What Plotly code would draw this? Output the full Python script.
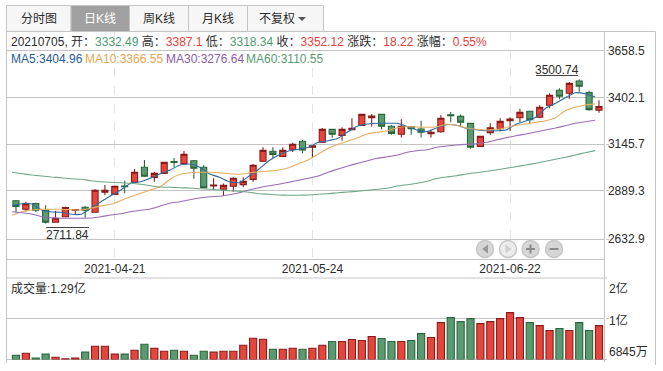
import plotly.graph_objects as go

W, H = 663, 371
dates = ["2021-04-07","2021-04-08","2021-04-09","2021-04-12","2021-04-13","2021-04-14","2021-04-15","2021-04-16","2021-04-19","2021-04-20",
"2021-04-21","2021-04-22","2021-04-23","2021-04-26","2021-04-27","2021-04-28","2021-04-29","2021-04-30","2021-05-06","2021-05-07",
"2021-05-10","2021-05-11","2021-05-12","2021-05-13","2021-05-14","2021-05-17","2021-05-18","2021-05-19","2021-05-20","2021-05-21",
"2021-05-24","2021-05-25","2021-05-26","2021-05-27","2021-05-28","2021-05-31","2021-06-01","2021-06-02","2021-06-03","2021-06-04",
"2021-06-07","2021-06-08","2021-06-09","2021-06-10","2021-06-11","2021-06-15","2021-06-16","2021-06-17","2021-06-18","2021-06-21",
"2021-06-22","2021-06-23","2021-06-24","2021-06-25","2021-06-28","2021-06-29","2021-06-30","2021-07-01","2021-07-02","2021-07-05"]

open_ = [2836,2789,2820,2784,2718,2748,2784,2800,2773,2882,2871,2917,2937,3019,2964,2986,3050,3039,3055,3019,
         2917,2899,2915,2924,2953,3052,3107,3079,3118,3162,3129,3156,3227,3194,3225,3249,3291,3309,3244,3200,
         3242,3229,3203,3214,3307,3298,3260,3134,3209,3231,3274,3291,3326,3293,3359,3441,3425,3492,3428,3332.49]
high = [2840,2831,2825,2811,2781,2803,2791,2807,2899,2922,2920,2946,3010,3059,2995,3050,3070,3108,3059,3032,
        2959,2931,2964,2964,3037,3129,3129,3129,3154,3169,3141,3234,3229,3238,3288,3311,3311,3311,3251,3282,
        3245,3274,3225,3304,3322,3309,3262,3191,3260,3288,3293,3340,3329,3359,3425,3452,3486,3500.74,3439,3387.1]
low = [2770,2776,2776,2711.84,2716,2745,2758,2743,2770,2866,2869,2877,2933,2966,2940,2982,3019,3035,2957,2904,
       2895,2862,2885,2910,2940,3048,3068,3075,3103,3096,3074,3152,3181,3165,3223,3247,3242,3227,3198,3183,
       3198,3182,3183,3209,3266,3242,3121,3132,3198,3216,3220,3267,3260,3288,3342,3392,3395,3433,3329,3318.34]
close = [2805,2820,2784,2718,2740,2798,2788,2784,2893,2893,2915,2913,2992,2970,2986,3046,3046,3090,3014,2907,
         2922,2920,2959,2942,3030,3112,3090,3112,3145,3114,3137,3227,3200,3227,3233,3309,3300,3244,3205,3244,
         3231,3211,3211,3288,3302,3266,3129,3189,3236,3271,3284,3320,3280,3348,3414,3408,3479,3463,3335,3352.12]

ma5 = [2808.7,2819.7,2818,2785,2774,2772.6,2761.6,2761.6,2794.5,2830.6,2863.5,2894.7,2931.4,2940.2,2958.8,2984,3004.3,3031.7,3037.2,3019,
       2982.4,2964.3,2940.2,2934.7,2971.4,3009.8,3055.3,3086.5,3108.4,3117.7,3128.7,3156,3164.8,3178,3214.2,3245.4,3256.4,3260.2,3260.2,3260.2,
       3241.6,3223.5,3215.3,3236.1,3252.5,3249.2,3232.8,3225.1,3219.6,3219.6,3223.5,3254.7,3272.8,3293,3342.4,3369.8,3400.5,3427.8,3422.4,3404.96]
ma10 = [2756,2775.8,2785,2789,2789,2789,2786.8,2785,2794.5,2807,2816.4,2836,2858,2876.6,2894.7,2912.8,2953.4,2980.8,2989.5,2991.7,
        2991.7,2989.5,2984,2980.8,2987.9,2995,2998.9,3004.3,3017,3038.8,3060.8,3092,3123.2,3145.1,3163.2,3181.3,3203.2,3210.9,3219.6,3236.1,
        3241.6,3239.9,3238.3,3241.6,3254.7,3249.2,3234.4,3227.3,3223.5,3227.3,3236.1,3249.2,3256.4,3265.7,3274.4,3290.9,3329.2,3347.9,3360.5,3366.55]
ma30 = [2775.8,2770.4,2763.2,2748.4,2742.9,2739.7,2739.7,2739.7,2741.3,2748.4,2757.7,2764.9,2775.8,2783.5,2790.6,2807,2823.5,2830.6,2841.6,2850.9,
        2858,2860.8,2869,2880,2894.7,2907.3,2918.3,2926,2936.9,2947.9,2958.8,2971.4,2991.7,3009.8,3026.2,3041,3055.3,3068.4,3077.2,3086.5,
        3101.3,3110,3115.5,3128.7,3135.8,3141.3,3145.1,3148.4,3156,3168.7,3181.3,3192.2,3201.6,3212.5,3223.5,3234.4,3247,3260.2,3269,3276.64]
ma60 = [2991.7,2984,2976.9,2971.4,2966,2962,2956.6,2953.4,2945.7,2940.2,2936.9,2934.7,2931.4,2926,2918.3,2911.2,2909.5,2907.3,2905.7,2901.8,
        2898.6,2894.7,2890.9,2887.6,2882,2874.5,2871.2,2867.3,2865.7,2865.7,2867.3,2871.2,2874.5,2880,2883.8,2887.6,2893,2898.6,2904,2916.7,
        2923.8,2931.4,2942.4,2958.8,2966,2973,2982.4,2989.5,2997.2,3004.3,3013.6,3022.4,3031.7,3041,3052,3063,3073.9,3086.5,3099,3110.55]

volume = [.106,.155,.033,.131,.057,.016,.033,.18,.326,.326,.131,.131,.228,.375,.277,.204,.228,.204,.106,.204,
          .18,.204,.204,.351,.522,.498,.253,.253,.277,.253,.277,.351,.441,.441,.49,.465,.563,.514,.441,.441,
          .465,.636,.539,.906,1.028,.93,1.004,.881,.93,1.004,1.151,1.028,.906,.832,.71,.759,.71,.906,.71,.832]

tick_dates = ["2021-04-21", "2021-05-24", "2021-06-22"]
price_tickvals = [3658.5, 3402.1, 3145.7, 2889.3, 2625]
price_ticktext = ["3658.5", "3402.1", "3145.7", "2889.3", "2632.9"]

RED, RED_D = "#e5463c", "#8c1a1a"
GRN, GRN_D = "#5b9a70", "#27673a"
GRID = "#c4c4c4"
FONT = "Liberation Sans, Noto Sans CJK SC, sans-serif"
TXT = "#2b2b2b"
TR, TG = "#e8413c", "#4f9a72"

def px(x): return x / W
def py(y): return 1 - y / H

X_RANGE = [-0.96, 59.56]
MA_SHIFT = 0.4

fig = go.Figure()
fig.add_trace(go.Candlestick(x=dates, open=open_, high=high, low=low, close=close, whiskerwidth=0,
    increasing=dict(line=dict(color=RED_D, width=1.1), fillcolor=RED),
    decreasing=dict(line=dict(color=GRN_D, width=1.1), fillcolor=GRN),
    hoverinfo="skip", xaxis="x", yaxis="y"))
for vals, col in ((ma5, "#2f6b9e"), (ma10, "#e6ad62"), (ma30, "#9a6bb2"), (ma60, "#6fa687")):
    fig.add_trace(go.Scatter(x=dates, y=vals, mode="lines", xaxis="x3", yaxis="y",
                             line=dict(color=col, width=1.1, shape="spline", smoothing=0.5), hoverinfo="skip"))
up = [c >= o for o, c in zip(open_, close)]
fig.add_trace(go.Bar(x=dates, y=volume, xaxis="x2", yaxis="y2", width=0.72,
    marker=dict(color=[RED if u else GRN for u in up],
                line=dict(color=[RED_D if u else GRN_D for u in up], width=1.1)),
    hoverinfo="skip"))

shapes, ann = [], []
def line(x0, y0, x1, y1, color=GRID, width=1, dash=None):
    shapes.append(dict(type="line", xref="paper", yref="paper", x0=px(x0), y0=py(y0), x1=px(x1), y1=py(y1),
                       line=dict(color=color, width=width, dash=dash or "solid"), layer="below"))
def rect(x0, y0, x1, y1, fill, border=GRID):
    shapes.append(dict(type="rect", xref="paper", yref="paper", x0=px(x0), y0=py(y0), x1=px(x1), y1=py(y1),
                       fillcolor=fill, line=dict(color=border, width=1), layer="below"))
def text(x, y, s, color=TXT, size=12, anchor="left"):
    ann.append(dict(xref="paper", yref="paper", x=px(x), y=py(y), text=s, showarrow=False, xanchor=anchor,
                    yanchor="middle", font=dict(family=FONT, size=size, color=color), borderpad=0, borderwidth=0))
def span(s, c): return f'<span style="color:{c}">{s}</span>'

# tabs
for x0, x1, label, active in ((6.5, 71, "分时图", False), (71, 129.5, "日K线", True), (129.5, 188.5, "周K线", False),
                              (188.5, 247.5, "月K线", False), (247.5, 323.5, "不复权", False)):
    rect(x0, 5.5, x1, 31.5, "#a0a0a0" if active else "#f6f6f6")
    cx = (x0 + x1) / 2 - (9 if label == "不复权" else 0)
    text(cx, 19, label, "#ffffff" if active else TXT, 12, "center")
shapes.append(dict(type="path", xref="paper", yref="paper",
                   path=f"M{px(298)},{py(17)} L{px(306)},{py(17)} L{px(302)},{py(21)} Z",
                   fillcolor="#555555", line=dict(width=0)))

# frame
line(6.5, 31.5, 655.5, 31.5)
line(6.5, 5.5, 6.5, 363)
line(604.5, 31.5, 604.5, 362)
line(655.5, 31.5, 655.5, 365)
line(6.5, 259.5, 604.5, 259.5)
line(6.5, 278, 607, 278)
line(6.5, 359.5, 607, 359.5)

# info lines
text(11, 41.5, "20210705, 开：" + span("3332.49", TG) + " 高：" + span("3387.1", TR) + " 低：" + span("3318.34", TG)
     + " 收：" + span("3352.12", TR) + " 涨跌：" + span("18.22", TR) + " 涨幅：" + span("0.55%", TR))
text(11, 59.5, "MA5:3404.96", "#1f5a94")
text(85, 59.5, "MA10:3366.55", "#e4a552")
text(165.5, 59.5, "MA30:3276.64", "#8e5aa5")
text(246, 59.5, "MA60:3110.55", "#5a9a72")

# extreme labels
text(557, 70, "3500.74", anchor="center")
line(536, 75.5, 578, 75.5, "#444444")
text(67, 235, "2711.84", anchor="center")
line(46, 227.5, 89, 227.5, "#444444")

# volume labels
text(11, 288.5, "成交量:1.29亿")
text(609, 288, "2亿")
text(609, 320, "1亿")
text(609, 351.5, "6845万")

# navigation buttons
for cx, fill, glyph in ((485, "#d6d6d6", "#9a9a9a"), (508, "#ececec", "#cfcfcf"), (530.5, "#d6d6d6", "#8a8a8a"), (554, "#d6d6d6", "#8a8a8a")):
    shapes.append(dict(type="circle", xref="paper", yref="paper", x0=px(cx - 8.5), y0=py(257.5), x1=px(cx + 8.5), y1=py(240.5),
                       fillcolor=fill, line=dict(color="#c6c6c6", width=1.5)))
shapes.append(dict(type="path", xref="paper", yref="paper", path=f"M{px(488)},{py(244.5)} L{px(488)},{py(253.5)} L{px(482)},{py(249)} Z", fillcolor="#9a9a9a", line=dict(width=0)))
shapes.append(dict(type="path", xref="paper", yref="paper", path=f"M{px(505.5)},{py(244.5)} L{px(505.5)},{py(253.5)} L{px(511.5)},{py(249)} Z", fillcolor="#d0d0d0", line=dict(width=0)))
for x0, y0, x1, y1 in ((526, 249, 535, 249), (530.5, 244.5, 530.5, 253.5), (549.5, 249, 558.5, 249)):
    shapes.append(dict(type="line", xref="paper", yref="paper", x0=px(x0), y0=py(y0), x1=px(x1), y1=py(y1), line=dict(color="#8a8a8a", width=2)))

xcommon = dict(type="category", categoryorder="array", categoryarray=dates)
fig.update_layout(
    width=W, height=H, autosize=False, margin=dict(l=0, r=0, t=0, b=0),
    paper_bgcolor="white", plot_bgcolor="rgba(0,0,0,0)", showlegend=False, boxgap=0.12,
    shapes=shapes, annotations=ann,
    xaxis=dict(**xcommon, domain=[px(6.5), px(604.5)], range=X_RANGE, anchor="y", rangeslider=dict(visible=False),
               tickmode="array", tickvals=tick_dates, ticktext=tick_dates, ticks="", showline=False,
               showgrid=True, gridcolor="#e4e4e4", griddash="dash", gridwidth=1, zeroline=False,
               tickfont=dict(family=FONT, size=12, color=TXT)),
    xaxis2=dict(**xcommon, domain=[px(6.5), px(604.5)], range=X_RANGE, anchor="y2", showticklabels=False, ticks="",
                showgrid=False, zeroline=False, showline=False),
    xaxis3=dict(**xcommon, overlaying="x", range=[X_RANGE[0] + MA_SHIFT, X_RANGE[1] + MA_SHIFT], visible=False),
    yaxis=dict(domain=[py(259.5), py(31.5)], range=[2513.9, 3763.2], side="right", anchor="x",
               tickmode="array", tickvals=price_tickvals, ticktext=price_ticktext, ticks="outside", ticklen=3, tickcolor=GRID,
               ticklabelstandoff=-3,
               showgrid=True, gridcolor=GRID, gridwidth=1, zeroline=False, showline=False,
               tickfont=dict(family=FONT, size=12, color=TXT)),
    yaxis2=dict(domain=[py(359.5), py(278)], range=[0, 2], side="right", anchor="x2", tickmode="array", tickvals=[1],
                showticklabels=False, ticks="outside", ticklen=3, tickcolor=GRID, showgrid=True, gridcolor=GRID, zeroline=False, showline=False),
)

fig.write_html("out.html", config=dict(displayModeBar=False),
               post_script="document.body.style.margin='0';document.body.style.overflow='hidden';")
